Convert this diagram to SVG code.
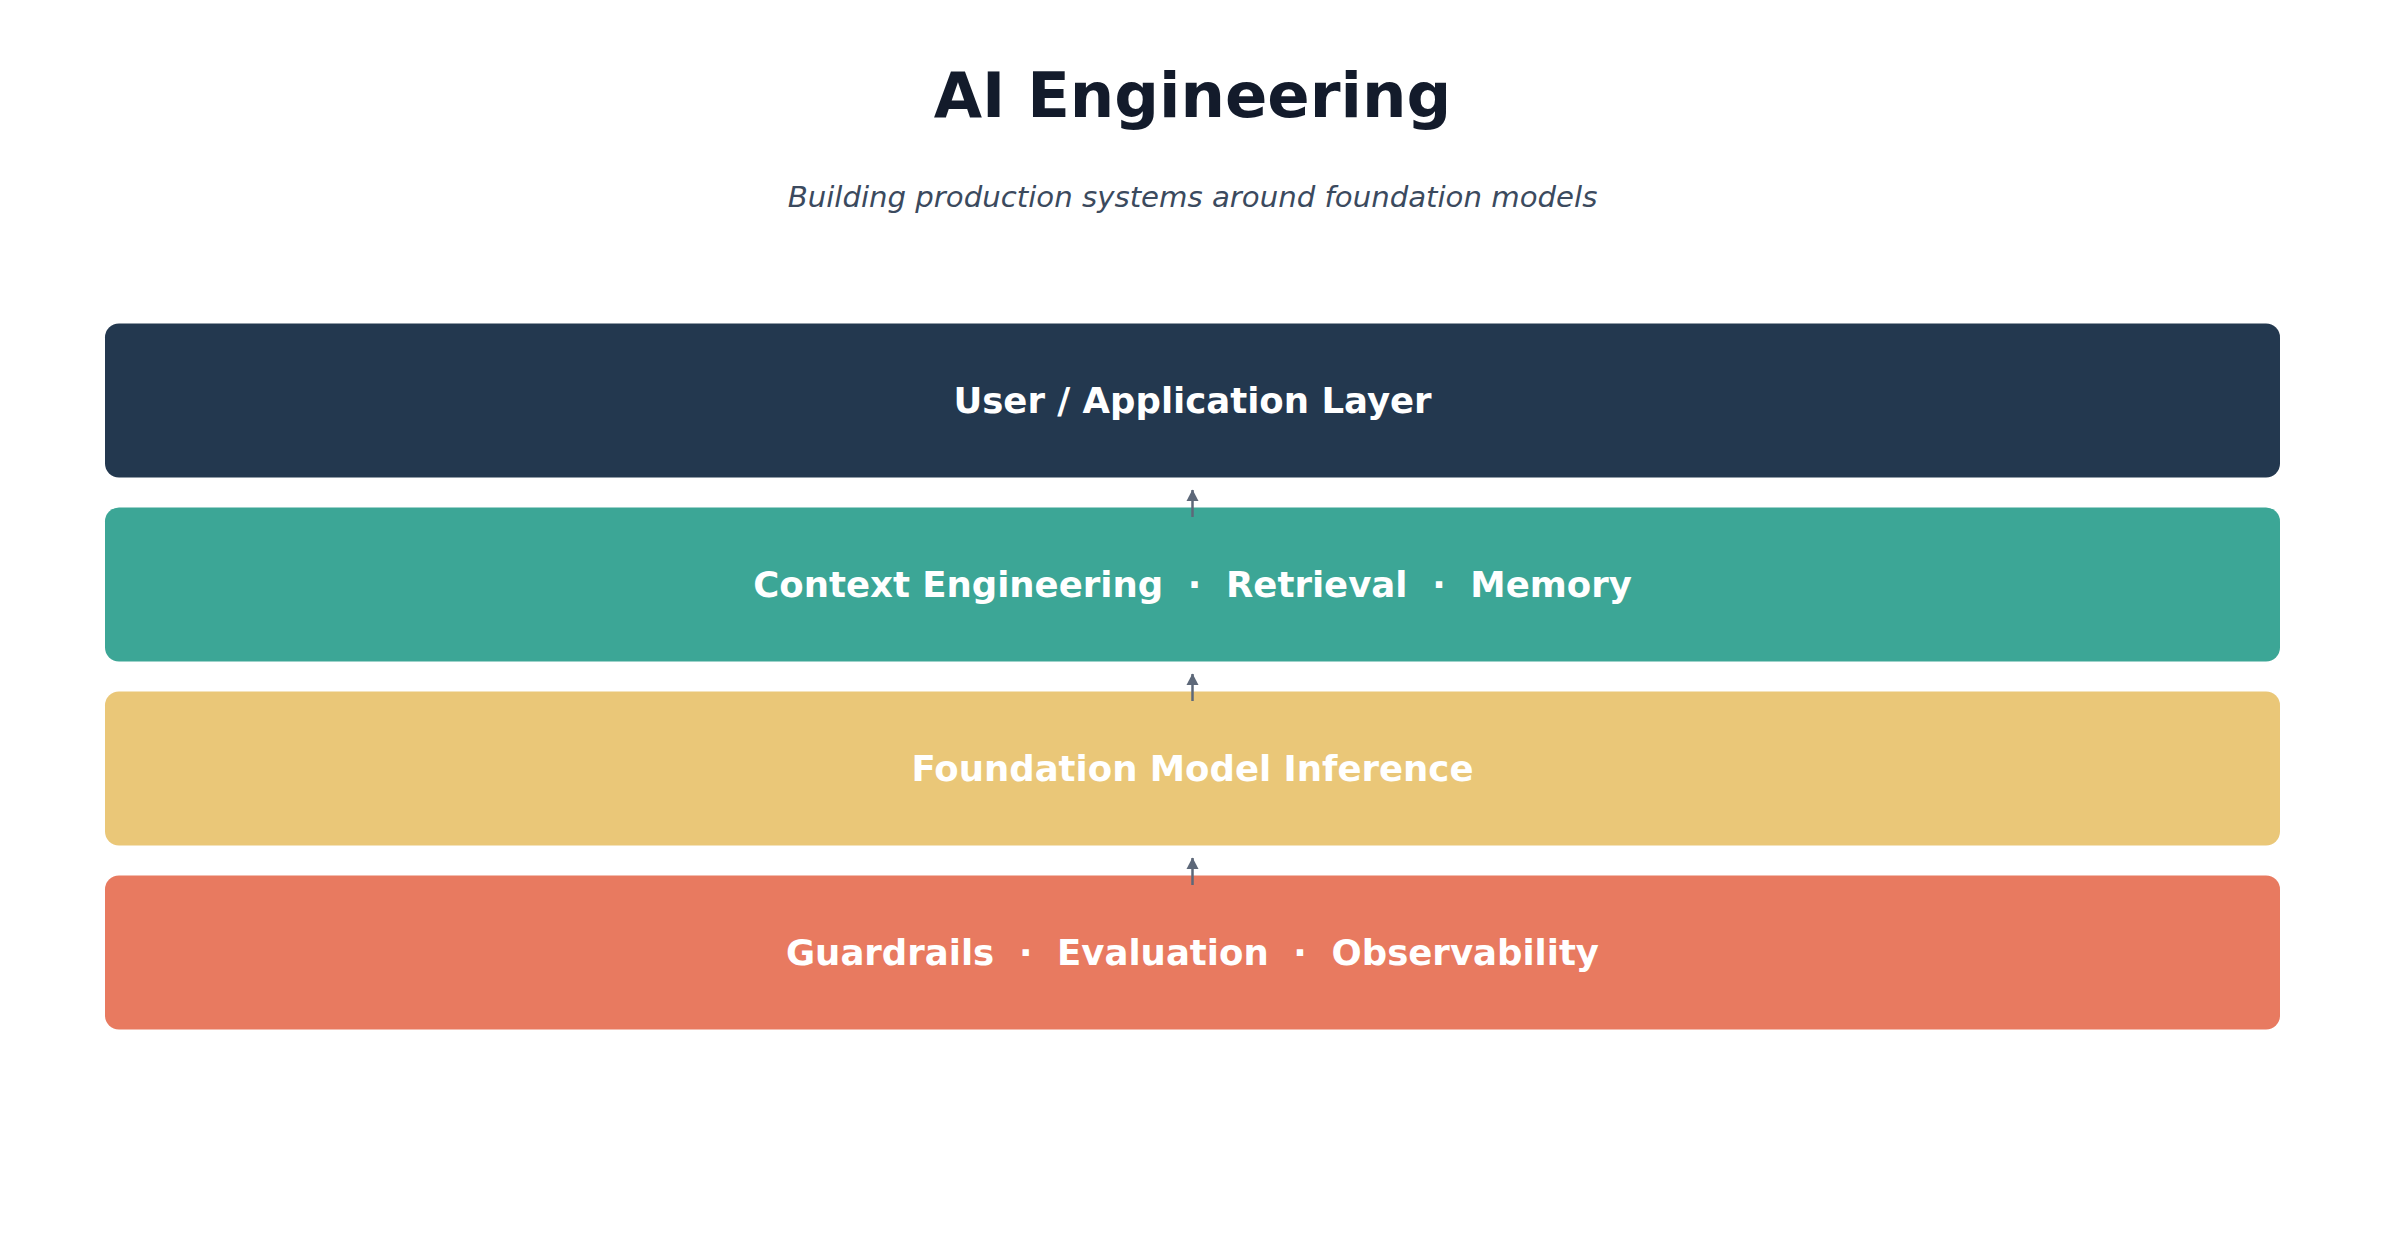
<svg xmlns="http://www.w3.org/2000/svg" width="2385" height="1244" viewBox="0 0 2385 1244">
<defs>
<style>
.title{font-family:"DejaVu Sans",sans-serif;font-weight:bold;font-size:62.5px;fill:#131b2b;text-anchor:middle}
.sub{font-family:"DejaVu Sans",sans-serif;font-style:italic;font-size:29.2px;fill:#3b4a5e;text-anchor:middle}
.lbl{font-family:"DejaVu Sans",sans-serif;font-weight:bold;font-size:35.5px;fill:#ffffff;text-anchor:middle}
.conn{stroke:#5d6879;stroke-width:2.5;fill:none}
</style>
<marker id="ah" markerWidth="6" markerHeight="6" refX="4.4" refY="3" orient="auto" markerUnits="strokeWidth">
<path d="M0,0.6 L4.6,3 L0,5.4 Z" fill="#5d6879"/>
</marker>
</defs>
<rect width="2385" height="1244" fill="#ffffff"/>
<text class="title" x="1192.5" y="117">AI Engineering</text>
<text class="sub" x="1192.5" y="207">Building production systems around foundation models</text>
<g id="node-user">
<rect x="105" y="323.5" width="2175" height="154" rx="14" fill="#23384f"/>
<text class="lbl" x="1192.5" y="413">User / Application Layer</text>
</g>
<g id="node-context">
<rect x="105" y="507.5" width="2175" height="154" rx="14" fill="#3ca696"/>
<text class="lbl" x="1192.5" y="597" xml:space="preserve">Context Engineering  ·  Retrieval  ·  Memory</text>
</g>
<g id="node-inference">
<rect x="105" y="691.5" width="2175" height="154" rx="14" fill="#eac778"/>
<text class="lbl" x="1192.5" y="781">Foundation Model Inference</text>
</g>
<g id="node-guardrails">
<rect x="105" y="875.5" width="2175" height="154" rx="14" fill="#e87a60"/>
<text class="lbl" x="1192.5" y="965" xml:space="preserve">Guardrails  ·  Evaluation  ·  Observability</text>
</g>
<g id="connectors">
<line class="conn" x1="1192.5" y1="517" x2="1192.5" y2="490" marker-end="url(#ah)"/>
<line class="conn" x1="1192.5" y1="701" x2="1192.5" y2="674" marker-end="url(#ah)"/>
<line class="conn" x1="1192.5" y1="885" x2="1192.5" y2="858" marker-end="url(#ah)"/>
</g>
</svg>
